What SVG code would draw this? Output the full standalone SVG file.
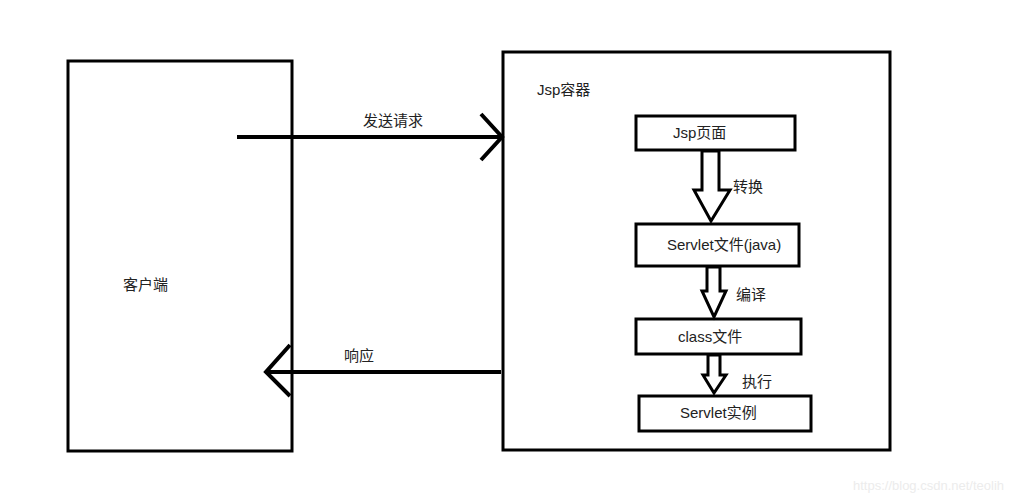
<svg xmlns="http://www.w3.org/2000/svg" width="1014" height="500" viewBox="0 0 1014 500">
<style>
.box{fill:#fff;stroke:#000;stroke-width:3}
.ln{fill:none;stroke:#000;stroke-width:4;stroke-linejoin:miter}
.blk{fill:#fff;stroke:#000;stroke-width:3;stroke-linejoin:miter}
text{font-family:"Liberation Sans","Noto Sans CJK SC",sans-serif;font-size:15px;fill:#222}
.wm{font-size:13px;fill:#ececec}
</style>
<rect width="1014" height="500" fill="#fff"/>
<g id="client"><rect class="box" x="68" y="61" width="224" height="390"/><text x="123" y="290">客户端</text></g>
<g id="container"><rect class="box" x="503" y="52" width="387" height="398"/><text x="537" y="95">Jsp容器</text></g>
<g id="jsp"><rect class="box" x="636" y="116" width="159" height="34"/><text x="673" y="138">Jsp页面</text></g>
<g id="servletjava"><rect class="box" x="636" y="224" width="163" height="42"/><text x="667" y="250">Servlet文件(java)</text></g>
<g id="classfile"><rect class="box" x="636" y="319" width="165" height="35"/><text x="678" y="342">class文件</text></g>
<g id="servletinst"><rect class="box" x="639" y="396" width="172" height="35"/><text x="680" y="418">Servlet实例</text></g>
<g id="connectors">
<path class="ln" d="M237 137 H501 M481 114 L502 137 L481 160"/>
<path class="ln" d="M501 372 H267 M290 345 L266 372 L290 396"/>
<polygon class="blk" points="702,151 719,151 719,190 730,190 711,221 694,190 702,190"/>
<polygon class="blk" points="707,267 720,267 720,291 726,291 714,317 702,291 707,291"/>
<polygon class="blk" points="708,355 720,355 720,375 726,375 714,393 703,375 708,375"/>
<text x="363" y="126">发送请求</text>
<text x="344" y="361">响应</text>
<text x="733" y="192">转换</text>
<text x="736" y="300">编译</text>
<text x="742" y="387">执行</text>
</g>
<text class="wm" x="853" y="490">https://blog.csdn.net/teolih</text>
</svg>
